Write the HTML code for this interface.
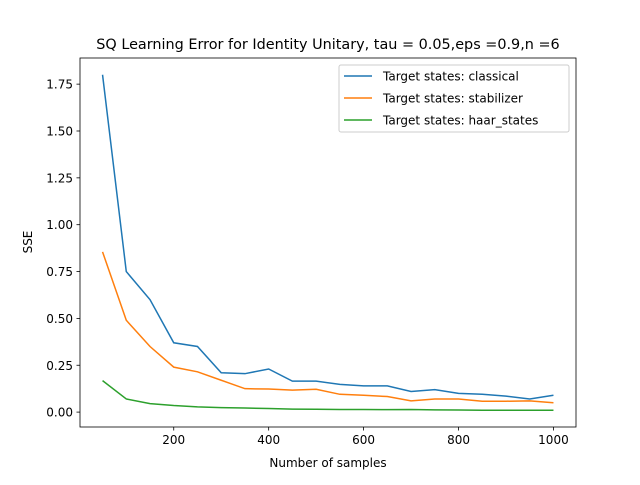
<!DOCTYPE html>
<html><head><meta charset="utf-8"><style>body{margin:0;background:#fff}svg text{font-family:"DejaVu Sans","Liberation Sans",sans-serif}</style></head>
<body>
<svg id="chart" width="640" height="480" xmlns="http://www.w3.org/2000/svg">
<rect width="640" height="480" fill="#fff"/>
<text x="328" y="49" font-size="14.4" text-anchor="middle">SQ Learning Error for Identity Unitary, tau = 0.05,eps =0.9,n =6</text>
<g id="plot"></g>
<rect x="80" y="58" width="496" height="369" fill="none" stroke="#000" stroke-width="0.8"/>
<text x="328" y="467" font-size="12" text-anchor="middle">Number of samples</text>
<text x="32" y="242" font-size="12" text-anchor="middle" transform="rotate(-90 32 242)">SSE</text>
<g>
<rect x="339" y="65" width="230" height="67" fill="#fff" stroke="#ccc" rx="2"/>
</g>
</svg>
<script>
const samples=[50,100,150,200,250,300,350,400,450,500,550,600,650,700,750,800,850,900,950,1000];
const classical=[1.80,0.75,0.60,0.37,0.35,0.21,0.205,0.23,0.165,0.165,0.148,0.14,0.14,0.11,0.12,0.10,0.095,0.085,0.07,0.09];
const stabilizer=[0.855,0.49,0.35,0.24,0.215,0.17,0.125,0.123,0.117,0.122,0.095,0.09,0.083,0.06,0.07,0.07,0.058,0.058,0.06,0.05];
const haar=[0.168,0.07,0.045,0.035,0.028,0.024,0.022,0.019,0.016,0.015,0.014,0.014,0.013,0.014,0.012,0.011,0.010,0.010,0.010,0.010];
const xTicks=[200,400,600,800,1000];
const yTicks=[0.00,0.25,0.50,0.75,1.00,1.25,1.50,1.75];
const seriesNames=["Target states: classical","Target states: stabilizer","Target states: haar_states"];
const colors=["#1f77b4","#ff7f0e","#2ca02c"];
const NS="http://www.w3.org/2000/svg";
const L=80,R=576,T=58,B=427;
const all=classical.concat(stabilizer,haar);
const xmin=Math.min(...samples),xmax=Math.max(...samples),xm=(xmax-xmin)*0.05;
const ymin=Math.min(...all),ymax=Math.max(...all),ym=(ymax-ymin)*0.05;
const sx=v=>L+(v-(xmin-xm))/((xmax+xm)-(xmin-xm))*(R-L);
const sy=v=>B-(v-(ymin-ym))/((ymax+ym)-(ymin-ym))*(B-T);
const g=document.getElementById('plot');
function mk(t,a){const e=document.createElementNS(NS,t);for(const k in a)e.setAttribute(k,a[k]);return e;}
xTicks.forEach(v=>{
 const ln=mk('line',{x1:sx(v),x2:sx(v),y1:B,y2:B+3.5,stroke:'#000','stroke-width':0.8});
 
 
 g.appendChild(ln);
 const t=mk('text',{x:sx(v),y:B+17,'font-size':12,'text-anchor':'middle'});t.textContent=v;
 
 
 g.appendChild(t);
});
yTicks.forEach(v=>{
 const ln=mk('line',{x1:L-3.5,x2:L,y1:sy(v),y2:sy(v),stroke:'#000','stroke-width':0.8});
 
 
 g.appendChild(ln);
 const t=mk('text',{x:L-7,y:sy(v)+4.5,'font-size':12,'text-anchor':'end'});t.textContent=v.toFixed(2);
 
 
 g.appendChild(t);
});
[classical,stabilizer,haar].forEach((s,i)=>{
 const p=mk('polyline',{points:s.map((v,j)=>sx(samples[j])+','+sy(v)).join(' '),fill:'none',stroke:colors[i],'stroke-width':1.5});
 
 
 g.appendChild(p);
});
const svg=document.getElementById('chart');
seriesNames.forEach((n,i)=>{
 const y=76+i*22;
 const ln=mk('line',{x1:344,x2:372,y1:y,y2:y,stroke:colors[i],'stroke-width':1.5});
 
 
 svg.appendChild(ln);
 const t=mk('text',{x:383,y:y+4.5,'font-size':12});t.textContent=n;
 
 
 svg.appendChild(t);
});
</script>
</body></html>
